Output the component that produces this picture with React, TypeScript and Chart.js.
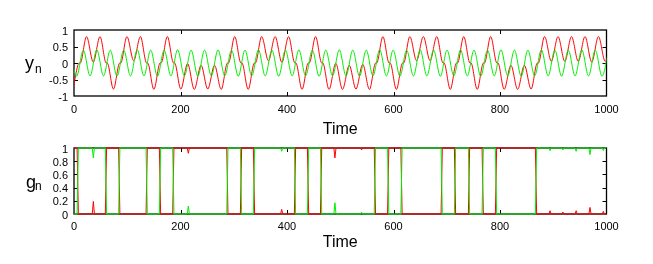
import React, { useEffect, useRef } from 'react';
import { Chart, registerables } from 'chart.js';
Chart.register(...registerables);

// ---------- top panel: y_n ----------
const greenT = [
  -7.8, 4.9, 17.5, 30.2, 42.8, 55.5, 68.1, 80.8, 93.4, 106.1,
  118.7, 131.4, 144.0, 156.7, 169.3, 182.0, 194.6, 207.3, 219.9, 232.6,
  245.2, 257.9, 270.5, 283.2, 295.8, 308.5, 321.1, 333.8, 346.4, 359.1,
  371.7, 384.4, 397.0, 409.7, 422.3, 435.0, 447.6, 460.3, 472.9, 485.6,
  498.2, 510.9, 523.5, 536.2, 548.8, 561.5, 574.1, 586.8, 599.4, 612.1,
  624.7, 637.4, 650.0, 662.7, 675.3, 688.0, 700.6, 713.3, 725.9, 738.6,
  751.2, 763.9, 776.5, 789.2, 801.8, 814.5, 827.1, 839.8, 852.4, 865.1,
  877.7, 890.4, 903.0, 915.7, 928.3, 941.0, 953.6, 966.3, 978.9, 991.6,
  1004.2,
];
const greenY = [
  0.39, -0.4, 0.39, -0.39, 0.4, -0.39, 0.39, -0.4, 0.39, -0.39,
  0.4, -0.39, 0.39, -0.4, 0.39, -0.39, 0.4, -0.39, 0.39, -0.4,
  0.39, -0.39, 0.4, -0.39, 0.39, -0.4, 0.39, -0.39, 0.4, -0.39,
  0.39, -0.4, 0.39, -0.39, 0.4, -0.39, 0.39, -0.4, 0.39, -0.39,
  0.4, -0.39, 0.39, -0.4, 0.39, -0.39, 0.4, -0.39, 0.39, -0.4,
  0.39, -0.39, 0.4, -0.39, 0.39, -0.4, 0.39, -0.39, 0.4, -0.39,
  0.39, -0.4, 0.39, -0.39, 0.4, -0.39, 0.39, -0.4, 0.39, -0.39,
  0.4, -0.39, 0.39, -0.4, 0.39, -0.39, 0.4, -0.39, 0.39, -0.4,
  0.39,
];
const redT = [
  -1.8, 9.9, 11.8, 23.5, 36.2, 48.8, 60.5, 62.4, 74.1, 85.8,
  87.7, 99.4, 112.1, 124.7, 136.4, 138.3, 150.0, 161.7, 163.6, 175.3,
  187.0, 188.9, 200.6, 213.3, 225.9, 238.6, 251.2, 263.9, 276.5, 288.2,
  290.1, 301.8, 313.5, 315.4, 327.1, 338.8, 340.7, 352.4, 365.1, 377.7,
  390.4, 403.0, 414.7, 416.6, 428.3, 440.0, 441.9, 453.6, 465.3, 467.2,
  478.9, 491.6, 504.2, 516.9, 529.5, 542.2, 554.8, 566.5, 568.4, 580.1,
  591.8, 593.7, 605.4, 617.1, 619.0, 630.7, 643.4, 656.0, 668.7, 681.3,
  693.0, 694.9, 706.6, 718.3, 720.2, 731.9, 743.6, 745.5, 757.2, 768.9,
  770.8, 782.5, 794.2, 796.1, 807.8, 820.5, 833.1, 845.8, 858.4, 870.1,
  872.0, 883.7, 896.4, 909.0, 921.7, 934.3, 947.0, 959.6, 972.3, 984.9,
  997.6, 1010.2,
];
const redY = [
  -0.78, 0, 0, 0.8, 0.03, 0.8, 0, 0, -0.79, 0,
  0, 0.8, 0.07, 0.8, 0, 0, -0.8, 0, 0, 0.8,
  0, 0, -0.79, -0.02, -0.8, -0.07, -0.79, -0.07, -0.8, 0,
  0, 0.8, 0, 0, -0.8, 0, 0, 0.8, 0.07, 0.8,
  0.02, 0.8, 0, 0, -0.8, 0, 0, 0.8, 0, 0,
  -0.8, -0.01, -0.8, -0.07, -0.79, -0.04, -0.8, 0, 0, 0.8,
  0, 0, -0.8, 0, 0, 0.8, 0.07, 0.8, 0.07, 0.8,
  0, 0, -0.8, 0, 0, 0.8, 0, 0, -0.8, 0,
  0, 0.8, 0, 0, -0.8, -0.07, -0.8, -0.07, -0.79, 0,
  0, 0.8, 0.05, 0.8, 0.05, 0.8, 0.05, 0.8, 0.03, 0.8,
  0.05, 0.8,
];

// ---------- bottom panel: g_n ----------
const gRedStart = 1;
const gSwitchT = [7, 60, 85, 136.5, 161.5, 186.5, 288, 313.6, 338, 415, 439.5, 464, 565, 590, 615, 690.5, 715.5, 741.8, 767.5, 792.5, 867.6];
const spikeT = [36.3, 214.7, 390, 490, 540, 894, 918, 943, 969, 994];
const spikeTopDip = [0.15, 0.08, 0.05, 0.15, 0.03, 0.04, 0.03, 0.05, 0.1, 0.04];
const spikeBotRise = [0.19, 0.12, 0.07, 0.17, 0.03, 0.05, 0.03, 0.05, 0.1, 0.04];

const xTickVals = [0, 200, 400, 600, 800, 1000];
const yTickTop = [-1, -0.5, 0, 0.5, 1];
const yTickBot = [0, 0.2, 0.4, 0.6, 0.8, 1];
const xTitle = 'Time';

const RED = '#ff0000';
const GREEN = '#00ee00';
const FONT = '"Liberation Sans", Arial, Helvetica, sans-serif';

function buildG(start: number) {
  const ev = [
    ...gSwitchT.map((t) => ({ t, s: true, i: 0 })),
    ...spikeT.map((t, i) => ({ t, s: false, i })),
  ].sort((a, b) => a.t - b.t);
  let cur = start;
  const pts: { x: number; y: number }[] = [{ x: 0, y: cur }];
  for (const e of ev) {
    if (e.s) {
      pts.push({ x: e.t - 1.2, y: cur });
      cur = 1 - cur;
      pts.push({ x: e.t + 1.2, y: cur });
    } else {
      const v = cur === 1 ? 1 - spikeTopDip[e.i] : spikeBotRise[e.i];
      pts.push({ x: e.t - 2, y: cur }, { x: e.t, y: v }, { x: e.t + 2, y: cur });
    }
  }
  pts.push({ x: 1000, y: cur });
  return pts;
}

function framePlugin(yTicks: number[], main: string, sub: string, mx: number, mb: number, sx: number, sb: number) {
  return {
    id: 'frame',
    beforeDatasetsDraw(chart: any) {
      const { ctx, chartArea: a, scales } = chart;
      const xs = scales.x;
      const ys = scales.y;
      const L = 4;
      ctx.save();
      ctx.strokeStyle = '#000';
      ctx.lineWidth = 1;
      ctx.beginPath();
      for (const v of xTickVals) {
        if (v <= xs.min || v >= xs.max) continue;
        const px = Math.round(xs.getPixelForValue(v)) + 0.5;
        ctx.moveTo(px, a.bottom);
        ctx.lineTo(px, a.bottom - L);
        ctx.moveTo(px, a.top);
        ctx.lineTo(px, a.top + L);
      }
      for (const v of yTicks) {
        if (v <= ys.min || v >= ys.max) continue;
        const py = Math.round(ys.getPixelForValue(v)) + 0.5;
        ctx.moveTo(a.left, py);
        ctx.lineTo(a.left + L, py);
        ctx.moveTo(a.right, py);
        ctx.lineTo(a.right - L, py);
      }
      ctx.stroke();
      ctx.lineWidth = 1.3;
      ctx.strokeRect(a.left, a.top, a.right - a.left, a.bottom - a.top);
      ctx.restore();
    },
    afterDraw(chart: any) {
      const ctx = chart.ctx;
      ctx.save();
      ctx.fillStyle = '#000';
      ctx.textBaseline = 'alphabetic';
      ctx.textAlign = 'left';
      ctx.font = `18px ${FONT}`;
      ctx.fillText(main, mx, mb);
      ctx.font = `12px ${FONT}`;
      ctx.fillText(sub, sx, sb);
      ctx.restore();
    },
  };
}

function makeConfig(panel: 'top' | 'bot'): any {
  const top = panel === 'top';
  const datasets = top
    ? [
        {
          label: 'green',
          data: greenT.map((t, i) => ({ x: t, y: greenY[i] })),
          borderColor: GREEN,
          order: 0,
        },
        {
          label: 'red',
          data: redT.map((t, i) => ({ x: t, y: redY[i] })),
          borderColor: RED,
          order: 1,
        },
      ]
    : [
        { label: 'green', data: buildG(1 - gRedStart), borderColor: GREEN, order: 0 },
        { label: 'red', data: buildG(gRedStart), borderColor: RED, order: 1 },
      ];
  const yTicks = top ? yTickTop : yTickBot;
  return {
    type: 'line',
    data: {
      datasets: datasets.map((d) => ({
        ...d,
        borderWidth: 1,
        pointRadius: 0,
        fill: false,
        cubicInterpolationMode: top ? 'monotone' : 'default',
        tension: 0,
        clip: { left: 0, right: 0, top: 3, bottom: 3 },
      })),
    },
    options: {
      responsive: false,
      maintainAspectRatio: false,
      animation: false,
      devicePixelRatio: 1,
      events: [],
      layout: { padding: { left: 0, right: 46.5, top: top ? 30 : 18, bottom: 0 } },
      plugins: { legend: { display: false }, tooltip: { enabled: false } },
      scales: {
        x: {
          type: 'linear',
          min: 0,
          max: 1000,
          afterBuildTicks: (s: any) => {
            s.ticks = xTickVals.map((v) => ({ value: v }));
          },
          afterFit: (s: any) => {
            s.height = top ? 44 : 50;
          },
          grid: { display: false, drawTicks: false },
          border: { display: false },
          ticks: {
            color: '#000',
            font: { family: FONT, size: 11 },
            padding: top ? 7.5 : 6,
            maxRotation: 0,
            autoSkip: false,
            callback: (v: any) => String(v),
          },
          title: {
            display: true,
            text: xTitle,
            color: '#000',
            font: { family: FONT, size: 16 },
            padding: { top: 0, bottom: top ? 0.5 : 12 },
          },
        },
        y: {
          type: 'linear',
          min: top ? -1 : 0,
          max: 1,
          afterBuildTicks: (s: any) => {
            s.ticks = yTicks.map((v) => ({ value: v }));
          },
          afterFit: (s: any) => {
            s.width = 74;
          },
          grid: { display: false, drawTicks: false },
          border: { display: false },
          ticks: {
            color: '#000',
            font: { family: FONT, size: 11 },
            padding: 6,
            labelOffset: 1.5,
            autoSkip: false,
            callback: (v: any) => String(v),
          },
        },
      },
    },
    plugins: [
      top
        ? framePlugin(yTicks, 'y', 'n', 25, 69.3, 35, 72.7)
        : framePlugin(yTicks, 'g', 'n', 26, 57.6, 35, 60.3),
    ],
  };
}

function Panel({ panel, top, height }: { panel: 'top' | 'bot'; top: number; height: number }) {
  const ref = useRef<HTMLCanvasElement>(null);
  useEffect(() => {
    if (!ref.current) return;
    const chart = new Chart(ref.current, makeConfig(panel));
    return () => chart.destroy();
  }, [panel]);
  return (
    <canvas
      ref={ref}
      width={653}
      height={height}
      style={{ position: 'absolute', left: 0, top, width: 653, height }}
    />
  );
}

export default function App() {
  return (
    <div style={{ position: 'fixed', left: 0, top: 0, width: 653, height: 264, background: '#fff' }}>
      <Panel panel="top" top={0} height={140} />
      <Panel panel="bot" top={130} height={134} />
    </div>
  );
}
